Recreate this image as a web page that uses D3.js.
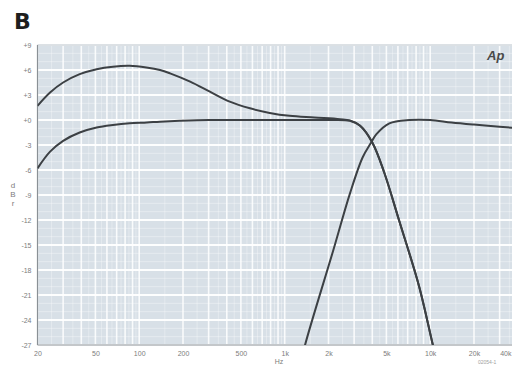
<!DOCTYPE html>
<html><head><meta charset="utf-8">
<script src="https://cdn.jsdelivr.net/npm/d3@7"></script>
<style>html,body{margin:0;padding:0;background:#fff;overflow:hidden}svg{display:block}</style>
</head><body>
<svg id="c" width="512" height="368"></svg>
<script>
// Data
const boostF  = [20, 24.4, 30, 39, 51, 66, 86, 112, 139, 163, 224, 306, 419, 577, 789, 1080, 1600, 2400, 2800, 3300, 4000, 4830, 6100, 8400, 10500, 11000];
const boostDb = [1.7, 3.3, 4.5, 5.5, 6.1, 6.4, 6.5, 6.3, 6.0, 5.6, 4.6, 3.4, 2.2, 1.4, 0.85, 0.5, 0.3, 0.1, -0.05, -0.7, -2.7, -6.3, -12, -20, -27.2, -28.5];
const flatF   = [20, 24.4, 30, 39, 51, 66, 86, 113, 139, 189, 300, 500, 1000, 2000, 2800, 3300, 4000, 4830, 6100, 8400, 10500, 11000];
const flatDb  = [-5.8, -3.8, -2.5, -1.5, -0.9, -0.6, -0.4, -0.3, -0.2, -0.1, 0, 0, 0, 0, -0.1, -0.7, -2.7, -6.3, -12, -20, -27.2, -28.5];
const hiF     = [1300, 1380, 2160, 2810, 3430, 3930, 4270, 5240, 7200, 10000, 14000, 20000, 30000, 40000];
const hiDb    = [-29, -27, -15.6, -8.8, -4.5, -2.7, -1.7, -0.4, 0, 0, -0.3, -0.55, -0.8, -1.0];
const xTickVals   = [20, 50, 100, 200, 500, 1000, 2000, 5000, 10000, 20000, 40000];
const xTickLabels = ["20", "50", "100", "200", "500", "1k", "2k", "5k", "10k", "20k", "40k"];
const yTickVals   = [9, 6, 3, 0, -3, -6, -9, -12, -15, -18, -21, -24, -27];
const yTickLabels = ["+9", "+6", "+3", "+0", "-3", "-6", "-9", "-12", "-15", "-18", "-21", "-24", "-27"];

const svg = d3.select("#c");
const L = 37.5, T = 45, B = 345;
const x = d3.scaleLog().domain([20, 40000]).range([L, L + 145.5 * Math.log10(2000)]);
const y = d3.scaleLinear().domain([-27, 9]).range([B, T]);
const R = x.range()[1];

svg.append("defs").append("clipPath").attr("id", "clip")
  .append("rect").attr("x", L).attr("y", T).attr("width", R - L).attr("height", B - T);

// Plot background
svg.append("rect").attr("x", L).attr("y", T).attr("width", R - L).attr("height", B - T)
  .attr("fill", "#d8e0e7");

const grid = svg.append("g").attr("clip-path", "url(#clip)");
// vertical grid (log)
const vLines = [];
[10, 100, 1000, 10000].forEach(d => { for (let k = 1; k < 10; k += 0.5) vLines.push({v: d * k, major: Number.isInteger(k)}); });
grid.selectAll(".vm").data(vLines.filter(o => o.v >= 20 && o.v <= 40000)).enter().append("line")
  .attr("x1", d => x(d.v)).attr("x2", d => x(d.v)).attr("y1", T).attr("y2", B)
  .attr("stroke", "#fff")
  .attr("stroke-opacity", d => d.major ? 0.85 : 0.4)
  .attr("stroke-width", d => d.major ? 1.6 : 0.8);
// horizontal grid
const hLines = d3.range(-27, 10, 1);
grid.selectAll(".hl").data(hLines).enter().append("line")
  .attr("x1", L).attr("x2", R).attr("y1", d => y(d)).attr("y2", d => y(d))
  .attr("stroke", "#fff")
  .attr("stroke-opacity", d => d % 3 === 0 ? 0.95 : 0.45)
  .attr("stroke-width", d => d % 3 === 0 ? 1.8 : 0.8);

// Frame
svg.append("line").attr("x1", L).attr("x2", R).attr("y1", T).attr("y2", T).attr("stroke", "#b9c2ca").attr("stroke-width", 1);
svg.append("line").attr("x1", L).attr("x2", R).attr("y1", B).attr("y2", B).attr("stroke", "#8a9095").attr("stroke-width", 1.2);
svg.append("line").attr("x1", L).attr("x2", L).attr("y1", T).attr("y2", B).attr("stroke", "#8a9095").attr("stroke-width", 1.2);

// Curves
const line = d3.line().x(d => x(d[0])).y(d => y(d[1])).curve(d3.curveCatmullRom.alpha(0.5));
const curves = [d3.zip(boostF, boostDb), d3.zip(flatF, flatDb), d3.zip(hiF, hiDb)];
svg.append("g").attr("clip-path", "url(#clip)").selectAll("path").data(curves).enter().append("path")
  .attr("d", line).attr("fill", "none").attr("stroke", "#3c4044").attr("stroke-width", 2)
  .attr("stroke-linejoin", "round");

// Axes
const tf = "'Liberation Sans', Arial, sans-serif";
const xAxis = d3.axisBottom(x).tickValues(xTickVals).tickFormat((d, i) => xTickLabels[i]).tickSize(0).tickPadding(6);
const gx = svg.append("g").attr("transform", `translate(0,${B})`).call(xAxis);
gx.select(".domain").remove();
gx.selectAll("text").attr("font-family", tf).attr("font-size", 7).attr("fill", "#7d7d7d");
// keep the last (edge) label inside the picture
gx.selectAll(".tick").filter(d => d === 40000).select("text")
  .attr("text-anchor", "end").attr("x", 511 - x(40000));

const yAxis = d3.axisLeft(y).tickValues(yTickVals).tickFormat((d, i) => yTickLabels[i]).tickSize(0).tickPadding(6);
const gy = svg.append("g").attr("transform", `translate(${L},0)`).call(yAxis);
gy.select(".domain").remove();
gy.selectAll("text").attr("font-family", tf).attr("font-size", 7).attr("fill", "#7d7d7d");

// Axis titles
svg.append("text").attr("x", 279).attr("y", 364).attr("text-anchor", "middle")
  .attr("font-family", tf).attr("font-size", 7).attr("fill", "#7d7d7d").text("Hz");
const dbr = svg.append("text").attr("x", 13).attr("text-anchor", "middle")
  .attr("font-family", tf).attr("font-size", 8).attr("fill", "#7d7d7d");
["d", "B", "r"].forEach((ch, i) => dbr.append("tspan").attr("x", 13).attr("y", 188 + i * 9).text(ch));

// Panel letter
svg.append("text").attr("x", 14).attr("y", 29).attr("font-family", "'DejaVu Sans', Arial, sans-serif")
  .attr("font-weight", "bold").attr("font-size", 22).attr("fill", "#1e1e1e").text("B");

// Ap logo
svg.append("text").attr("x", 487).attr("y", 60).attr("font-family", tf)
  .attr("font-weight", "bold").attr("font-style", "italic").attr("font-size", 13).attr("fill", "#4a4a4a").text("Ap");

// Figure code
svg.append("text").attr("x", 478).attr("y", 364).attr("font-family", tf)
  .attr("font-size", 5).attr("fill", "#a0a0a0").text("02054-1");
</script>
</body></html>
